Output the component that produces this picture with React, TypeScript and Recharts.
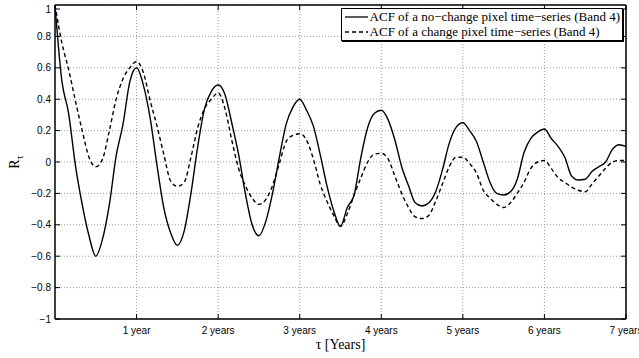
import React from 'react';
import { CartesianGrid, Line, LineChart, ReferenceLine, XAxis, YAxis } from 'recharts';

// lag in months (1/12 year steps)
const lagMonths = [
  0, 1, 2, 3, 4, 5, 6, 7, 8, 9, 10, 11, 12, 13, 14, 15, 16, 17, 18, 19, 20, 21, 22, 23, 24, 25, 26, 27, 28,
  29, 30, 31, 32, 33, 34, 35, 36, 37, 38, 39, 40, 41, 42, 43, 44, 45, 46, 47, 48, 49, 50, 51, 52, 53, 54, 55,
  56, 57, 58, 59, 60, 61, 62, 63, 64, 65, 66, 67, 68, 69, 70, 71, 72, 73, 74, 75, 76, 77, 78, 79, 80, 81, 82,
  83, 84,
];

const noChangeAcf = [
  1.0, 0.52, 0.31, -0.02, -0.27, -0.47, -0.6, -0.49, -0.27, 0.04, 0.24, 0.51, 0.6, 0.49, 0.28, -0.02, -0.29,
  -0.45, -0.53, -0.44, -0.2, 0.1, 0.34, 0.45, 0.49, 0.43, 0.25, 0.05, -0.2, -0.4, -0.47, -0.38, -0.2, 0.03,
  0.24, 0.35, 0.4, 0.33, 0.23, 0.05, -0.15, -0.31, -0.41, -0.29, -0.21, 0.03, 0.22, 0.31, 0.33, 0.27, 0.14,
  -0.03, -0.15, -0.26, -0.28, -0.26, -0.19, -0.05, 0.12, 0.22, 0.25, 0.2, 0.13, 0.0, -0.13, -0.2, -0.21,
  -0.19, -0.11, 0.06, 0.15, 0.19, 0.21, 0.15, 0.1, 0.03, -0.09, -0.115, -0.11, -0.06, -0.03, 0.0, 0.08, 0.11,
  0.1,
];

const changeAcf = [
  1.0, 0.76, 0.59, 0.39, 0.2, 0.03, -0.03, 0.02, 0.2, 0.4, 0.53, 0.6, 0.64, 0.57, 0.39, 0.23, 0.05, -0.12,
  -0.155, -0.13, 0.03, 0.22, 0.34, 0.4, 0.44, 0.34, 0.14, -0.04, -0.15, -0.23, -0.27, -0.24, -0.15, -0.01,
  0.13, 0.17, 0.18, 0.14, 0.02, -0.14, -0.25, -0.34, -0.41, -0.33, -0.21, -0.1, 0.0, 0.05, 0.055, 0.02, -0.09,
  -0.2, -0.29, -0.35, -0.36, -0.34, -0.25, -0.14, -0.03, 0.03, 0.03, -0.01, -0.07, -0.18, -0.23, -0.27, -0.29,
  -0.26, -0.2, -0.13, -0.04, 0.0, 0.01, -0.04, -0.1, -0.13, -0.16, -0.18, -0.19, -0.14, -0.09, -0.04, 0.0,
  0.01, 0.01,
];

const xTicks = [1, 2, 3, 4, 5, 6, 7];
const xTickLabels = ['1 year', '2 years', '3 years', '4 years', '5 years', '6 years', '7 years'];
const yTicks = [-1, -0.8, -0.6, -0.4, -0.2, 0, 0.2, 0.4, 0.6, 0.8, 1];

const seriesNames = [
  'ACF of a no\u2212change pixel time\u2212series (Band 4)',
  'ACF of a change pixel time\u2212series (Band 4)',
];

const data = lagMonths.map((m, i) => ({
  lag: m / 12,
  noChange: noChangeAcf[i],
  change: changeAcf[i],
}));

const W = 639;
const H = 358;
const PLOT_LEFT = 55;
const PLOT_RIGHT = 626;
const PLOT_TOP = 5;
const PLOT_BOTTOM = 319;
const SANS = '"Liberation Sans", Arial, Helvetica, sans-serif';
const SERIF = '"Liberation Serif", "Times New Roman", serif';

function fmtY(v: number) {
  const r = Math.round(v * 10) / 10;
  if (r === 0) return '0';
  return (r < 0 ? '\u2212' : '') + String(Math.abs(r));
}

function YTick(props: any) {
  const { y, payload } = props;
  return (
    <g>
      <line x1={PLOT_LEFT} x2={PLOT_LEFT + 5} y1={y} y2={y} stroke="#000" />
      <line x1={PLOT_RIGHT} x2={PLOT_RIGHT - 5} y1={y} y2={y} stroke="#000" />
      <text x={PLOT_LEFT - 4} y={y + 3.5} textAnchor="end" fontSize={10} fontFamily={SANS} fill="#000">
        {fmtY(payload.value)}
      </text>
    </g>
  );
}

function XTick(props: any) {
  const { x, payload, index } = props;
  return (
    <g>
      <line x1={x} x2={x} y1={PLOT_BOTTOM} y2={PLOT_BOTTOM - 5} stroke="#000" />
      <line x1={x} x2={x} y1={PLOT_TOP} y2={PLOT_TOP + 5} stroke="#000" />
      <text x={x} y={PLOT_BOTTOM + 15} textAnchor="middle" fontSize={10} fontFamily={SANS} fill="#000">
        {xTickLabels[index] ?? payload.value}
      </text>
    </g>
  );
}

function LegendBox() {
  return (
    <div
      style={{
        position: 'absolute',
        right: W - 623,
        top: 8,
        border: '1px solid #000',
        boxShadow: '1px 1px 0 #000',
        background: '#fff',
        padding: '0px 2px 1px 3px',
        fontFamily: SERIF,
        fontSize: 13,
        lineHeight: '15px',
        color: '#000',
        whiteSpace: 'nowrap',
      }}
    >
      {seriesNames.map((name, i) => (
        <div key={name} style={{ display: 'flex', alignItems: 'center' }}>
          <svg width={23} height={10} style={{ marginRight: 2 }}>
            <line x1={0} x2={23} y1={5} y2={5} stroke="#000" strokeWidth={1.3} strokeDasharray={i === 1 ? '4 3' : undefined} />
          </svg>
          <span>{name}</span>
        </div>
      ))}
    </div>
  );
}

function YLabel() {
  return (
    <text transform={`translate(19, ${(PLOT_TOP + PLOT_BOTTOM) / 2}) rotate(-90)`} textAnchor="middle" fontFamily={SERIF} fontSize={14} fill="#000">
      R<tspan fontSize={10} dy={4}>τ</tspan>
    </text>
  );
}

export default function App() {
  return (
    <div style={{ position: 'absolute', left: 0, top: 0, width: W, height: H, background: '#fff' }}>
      <LineChart width={W} height={H} data={data} margin={{ top: PLOT_TOP, right: W - PLOT_RIGHT, left: 0, bottom: 0 }}>
        <CartesianGrid stroke="#999" strokeDasharray="1 2" horizontalValues={yTicks} verticalValues={xTicks} />
        <XAxis
          dataKey="lag"
          type="number"
          domain={[0, 7]}
          ticks={xTicks}
          height={H - PLOT_BOTTOM}
          tickLine={false}
          tick={<XTick />}
          stroke="#000"
          strokeWidth={1.5}
          label={{ value: 'τ [Years]', position: 'insideBottom', offset: 9, fontFamily: SERIF, fontSize: 14, fill: '#000' }}
        />
        <YAxis
          type="number"
          domain={[-1, 1]}
          ticks={yTicks}
          width={PLOT_LEFT}
          tickLine={false}
          tick={<YTick />}
          stroke="#000"
          strokeWidth={1.5}
          label={<YLabel />}
        />
        <ReferenceLine y={1} stroke="#000" strokeWidth={1.5} />
        <ReferenceLine x={7} stroke="#000" strokeWidth={1.5} />
        <Line
          type="monotone"
          dataKey="noChange"
          name={seriesNames[0]}
          stroke="#000"
          strokeWidth={1.4}
          dot={false}
          isAnimationActive={false}
        />
        <Line
          type="monotone"
          dataKey="change"
          name={seriesNames[1]}
          stroke="#000"
          strokeWidth={1.4}
          strokeDasharray="4 3"
          dot={false}
          isAnimationActive={false}
        />
      </LineChart>
      <LegendBox />
    </div>
  );
}
